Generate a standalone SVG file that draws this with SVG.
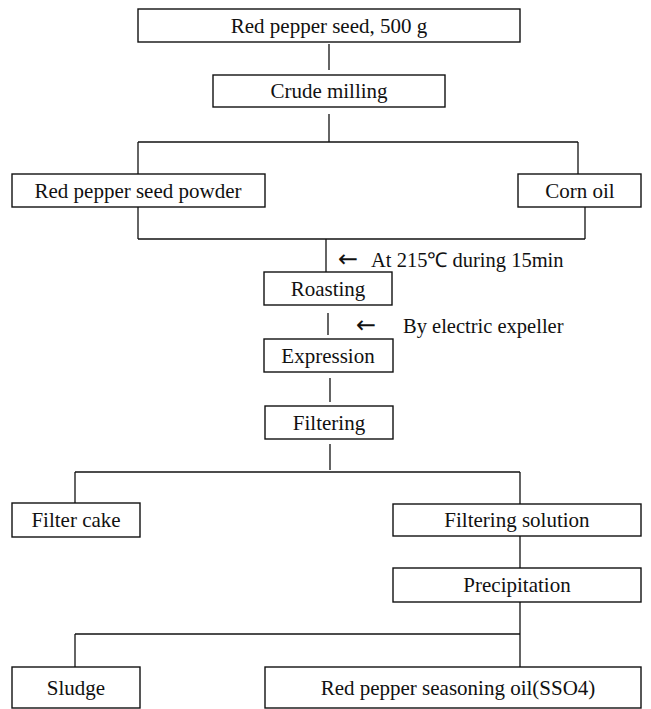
<svg xmlns="http://www.w3.org/2000/svg" width="651" height="709" viewBox="0 0 651 709">
<style>
rect.box{fill:#fff;stroke:#111;stroke-width:1.4}
text{font-family:"Liberation Serif","Times New Roman",serif;font-size:21px;fill:#111;text-anchor:middle}
text.note{text-anchor:start;font-size:20.5px}
text.arrow{text-anchor:start;font-family:"DejaVu Sans",sans-serif;font-size:24px}
#connectors line{stroke:#111;stroke-width:1.3}
</style>
<rect width="651" height="709" fill="#fff"/>
<g id="connectors">
<line x1="329" y1="44" x2="329" y2="70"/>
<line x1="329" y1="114" x2="329" y2="142"/>
<line x1="138" y1="142" x2="578" y2="142"/>
<line x1="138" y1="142" x2="138" y2="174"/>
<line x1="578" y1="142" x2="578" y2="174"/>
<line x1="138" y1="207" x2="138" y2="239"/>
<line x1="585" y1="207" x2="585" y2="239"/>
<line x1="138" y1="239" x2="585" y2="239"/>
<line x1="326" y1="239" x2="326" y2="272"/>
<line x1="328" y1="313" x2="328" y2="335"/>
<line x1="330" y1="378" x2="330" y2="402"/>
<line x1="330" y1="444" x2="330" y2="470"/>
<line x1="75" y1="472" x2="520" y2="472"/>
<line x1="75" y1="472" x2="75" y2="503"/>
<line x1="520" y1="472" x2="520" y2="504"/>
<line x1="520" y1="536" x2="520" y2="568"/>
<line x1="520" y1="602" x2="520" y2="667"/>
<line x1="75" y1="634" x2="520" y2="634"/>
<line x1="75" y1="634" x2="75" y2="667"/>
</g>
<g id="n1"><rect class="box" x="138" y="9" width="382" height="33"/><text x="329" y="33">Red pepper seed, 500 g</text></g>
<g id="n2"><rect class="box" x="213" y="75" width="232" height="32"/><text x="329" y="98">Crude milling</text></g>
<g id="n3"><rect class="box" x="12" y="174" width="253" height="33"/><text x="138" y="198">Red pepper seed powder</text></g>
<g id="n4"><rect class="box" x="518" y="174" width="123" height="33"/><text x="580" y="198">Corn oil</text></g>
<g id="note1"><text class="arrow" x="338" y="267">←</text><text class="note" x="371" y="267">At 215℃ during 15min</text></g>
<g id="n5"><rect class="box" x="264" y="272" width="128" height="33"/><text x="328" y="296">Roasting</text></g>
<g id="note2"><text class="arrow" x="356" y="333">←</text><text class="note" x="403" y="333">By electric expeller</text></g>
<g id="n6"><rect class="box" x="264" y="339" width="129" height="33"/><text x="328" y="363">Expression</text></g>
<g id="n7"><rect class="box" x="265" y="406" width="128" height="33"/><text x="329" y="430">Filtering</text></g>
<g id="n8"><rect class="box" x="12" y="503" width="128" height="34"/><text x="76" y="527">Filter cake</text></g>
<g id="n9"><rect class="box" x="393" y="504" width="248" height="32"/><text x="517" y="527">Filtering solution</text></g>
<g id="n10"><rect class="box" x="393" y="568" width="248" height="34"/><text x="517" y="592">Precipitation</text></g>
<g id="n11"><rect class="box" x="12" y="667" width="128" height="41"/><text x="76" y="695">Sludge</text></g>
<g id="n12"><rect class="box" x="265" y="667" width="376" height="41"/><text x="458" y="695">Red pepper seasoning oil(SSO4)</text></g>
</svg>
